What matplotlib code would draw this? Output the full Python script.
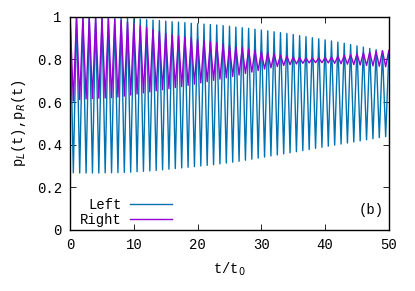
import numpy as np
import matplotlib.pyplot as plt

# peak values at t = 0, 1, ..., 50 and trough values at t = 0.5, 1.5, ..., 49.5
left_peaks = [1.0, 1.0, 1.0, 1.0, 0.999, 0.999, 0.998, 0.997, 0.995, 0.993,
              0.991, 0.989, 0.987, 0.985, 0.983, 0.980, 0.977, 0.975, 0.973, 0.970,
              0.968, 0.966, 0.964, 0.962, 0.959, 0.956, 0.952, 0.949, 0.946, 0.942,
              0.938, 0.934, 0.930, 0.926, 0.922, 0.917, 0.912, 0.907, 0.902, 0.897,
              0.892, 0.887, 0.881, 0.876, 0.870, 0.864, 0.858, 0.852, 0.846, 0.840,
              0.834]
left_troughs = [0.268, 0.267, 0.267, 0.267, 0.267, 0.268, 0.268, 0.269, 0.270, 0.271,
                0.273, 0.275, 0.277, 0.279, 0.282, 0.285, 0.288, 0.291, 0.294, 0.297,
                0.300, 0.303, 0.306, 0.310, 0.314, 0.318, 0.322, 0.327, 0.332, 0.337,
                0.342, 0.347, 0.352, 0.357, 0.362, 0.367, 0.372, 0.377, 0.383, 0.388,
                0.393, 0.398, 0.403, 0.408, 0.413, 0.418, 0.423, 0.428, 0.433, 0.438]
right_peaks = [1.0, 1.0, 0.999, 0.998, 0.996, 0.994, 0.991, 0.988, 0.984, 0.976,
               0.967, 0.958, 0.949, 0.940, 0.931, 0.922, 0.915, 0.910, 0.905, 0.900,
               0.894, 0.888, 0.883, 0.878, 0.872, 0.866, 0.860, 0.855, 0.849, 0.843,
               0.837, 0.832, 0.826, 0.821, 0.816, 0.812, 0.809, 0.806, 0.806, 0.807,
               0.809, 0.812, 0.815, 0.819, 0.823, 0.827, 0.831, 0.835, 0.838, 0.841,
               0.843]
right_troughs = [0.605, 0.612, 0.615, 0.617, 0.618, 0.619, 0.621, 0.624, 0.628, 0.633,
                 0.638, 0.643, 0.648, 0.653, 0.658, 0.663, 0.668, 0.673, 0.678, 0.684,
                 0.690, 0.696, 0.702, 0.708, 0.714, 0.720, 0.727, 0.734, 0.741, 0.748,
                 0.755, 0.761, 0.767, 0.772, 0.776, 0.779, 0.782, 0.784, 0.785, 0.785,
                 0.784, 0.782, 0.780, 0.778, 0.776, 0.774, 0.772, 0.770, 0.768, 0.766]


def zigzag(peaks, troughs):
    # interleave peaks (integer t) and troughs (half-integer t)
    n = len(troughs)
    t = np.empty(2 * n + 1)
    p = np.empty(2 * n + 1)
    t[0::2] = np.arange(len(peaks))
    t[1::2] = np.arange(n) + 0.5
    p[0::2] = peaks
    p[1::2] = troughs
    return t, p


plt.rcParams['font.family'] = ['Liberation Mono', 'DejaVu Sans Mono']
plt.rcParams['font.size'] = 10

fig = plt.figure(figsize=(4.15, 2.91), dpi=100)
ax = fig.add_axes([0.169, 0.210, 0.768, 0.732])

tl, pl = zigzag(left_peaks, left_troughs)
tr, pr = zigzag(right_peaks, right_troughs)
ax.plot(tl, pl, color='#0072b2', lw=1.0, label='Left')
ax.plot(tr, pr, color='#9400d3', lw=1.0, label='Right')

ax.set_xlim(0, 50)
ax.set_ylim(0, 1)
ax.set_xticks([0, 10, 20, 30, 40, 50])
ax.set_yticks([0, 0.2, 0.4, 0.6, 0.8, 1])
ax.set_yticklabels(['0', '0.2', '0.4', '0.6', '0.8', '1'])
ax.tick_params(direction='in', top=True, right=True, length=4, width=0.6, pad=6)
for s in ax.spines.values():
    s.set_linewidth(1.0)

ax.set_xlabel('t/t$_0$', labelpad=6)
ax.set_ylabel('p$_L$(t),p$_R$(t)', labelpad=6)
ax.text(0.985, 0.095, '(b)', transform=ax.transAxes, ha='right', va='center')

ax.legend(loc='lower left', bbox_to_anchor=(0.0, -0.03), frameon=False,
          markerfirst=False, handlelength=3.0, handletextpad=0.6,
          labelspacing=0.05, borderaxespad=0.3)

fig.savefig('out.png', dpi=100)
